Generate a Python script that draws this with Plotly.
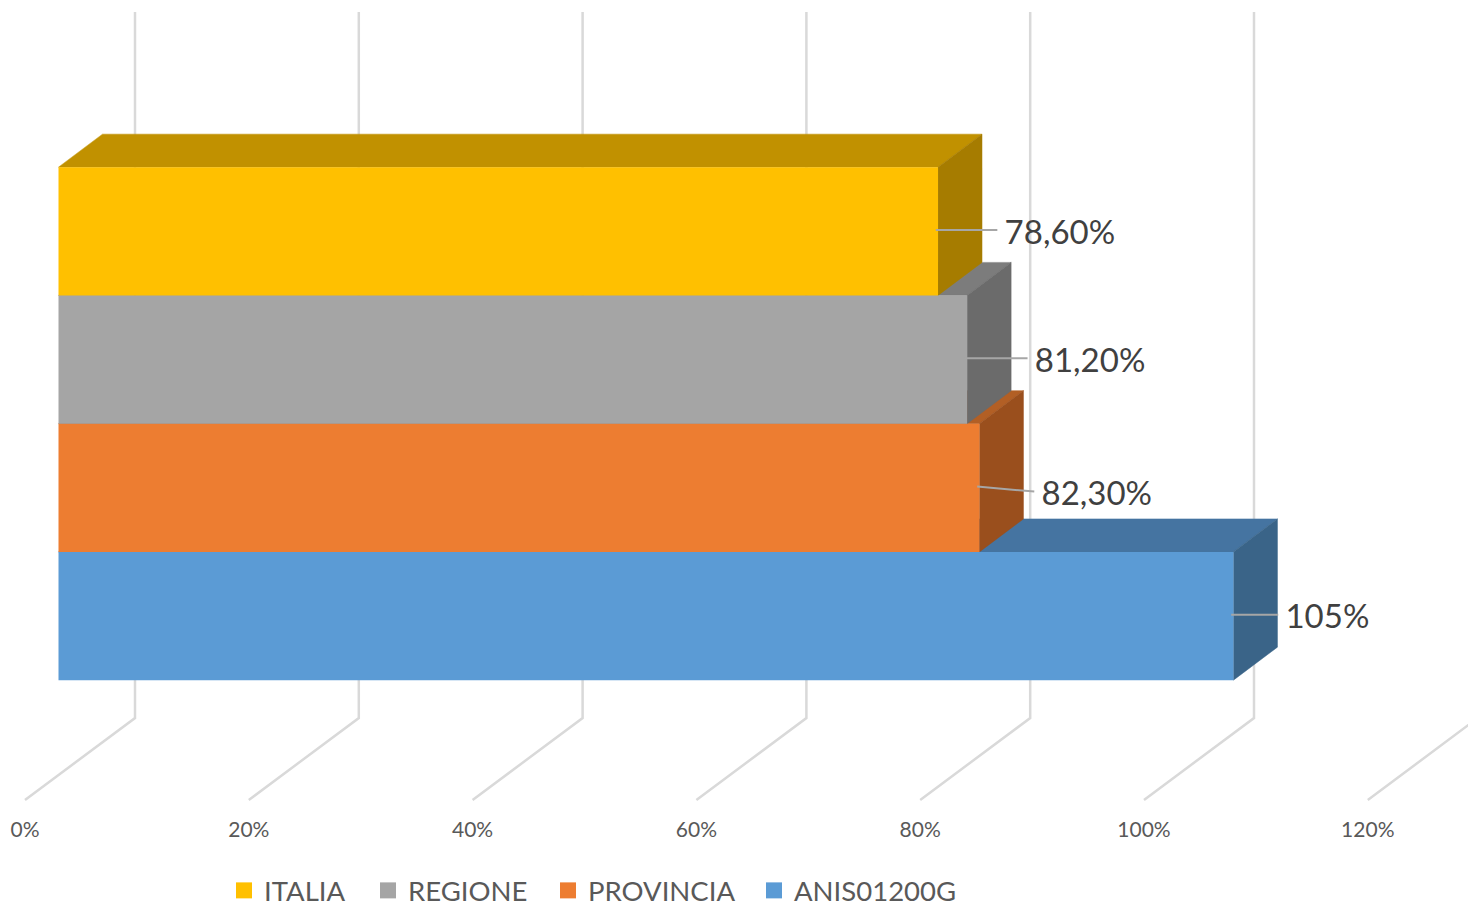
import plotly.graph_objects as go

CATEGORIES = ["ANIS01200G", "PROVINCIA", "REGIONE", "ITALIA"]
VALUES = [105, 82.3, 81.2, 78.6]
VALUE_LABELS = ["105%", "82,30%", "81,20%", "78,60%"]
FRONT_COLORS = ["#5B9BD5", "#ED7D31", "#A5A5A5", "#FFC000"]
TOP_COLORS = ["#4574A1", "#B25F25", "#7C7C7C", "#C19100"]
SIDE_COLORS = ["#3A6488", "#9A4F1D", "#6B6B6B", "#A67C00"]
TICK_VALUES = [0, 20, 40, 60, 80, 100, 120]
TICK_LABELS = ["0%", "20%", "40%", "60%", "80%", "100%", "120%"]
LEADER_LENGTH = [4.0, 4.9, 5.4, 5.3]
LEADER_DROP = [0.0, -0.04, 0.0, 0.0]
LEGEND_LEFT = [754, 548, 368, 224]

W, H = 1468, 907
PX = 11.19            # pixels per percentage point
BAND = 128.25         # pixels per category
Y0 = 616              # pixel row of the first category's centre
FRONT_ORIGIN = 58.5   # pixel column of 0 % on the bars' front face
FLOOR_ORIGIN = 25     # pixel column of 0 % on the floor's front edge
SHIFT = (FRONT_ORIGIN - FLOOR_ORIGIN) / PX
DX = 44 / PX
DY = 33 / BAND
GRID_DX = 110 / PX
FLOOR_FRONT = (Y0 - 800) / BAND
FLOOR_BACK = (Y0 - 718) / BAND
WALL_TOP = (Y0 - 12) / BAND
LABEL_NUDGE = 4 / BAND
FONT = "Lato, Carlito, Calibri, sans-serif"

y_range = [(Y0 - H) / BAND, Y0 / BAND]

fig = go.Figure()

# Depth grid: floor edge, then wall
for v in TICK_VALUES:
    fig.add_trace(go.Scatter(
        x=[v, v + GRID_DX, v + GRID_DX],
        y=[FLOOR_FRONT, FLOOR_BACK, WALL_TOP],
        mode="lines", line=dict(color="#D9D9D9", width=2.5),
        showlegend=False, hoverinfo="skip", xaxis="x", yaxis="y"))

# Depth faces of each bar, drawn from the lowest bar to the highest
for i, (v, top, side) in enumerate(zip(VALUES, TOP_COLORS, SIDE_COLORS)):
    x0, x1 = SHIFT, v + SHIFT
    yb, yt = i - 0.5, i + 0.5
    fig.add_trace(go.Scatter(
        x=[x0, x1, x1 + DX, x0 + DX, x0], y=[yt, yt, yt + DY, yt + DY, yt],
        mode="lines", fill="toself", fillcolor=top, line=dict(color=top, width=0.5),
        showlegend=False, hoverinfo="skip", xaxis="x", yaxis="y"))
    fig.add_trace(go.Scatter(
        x=[x1, x1 + DX, x1 + DX, x1, x1], y=[yb, yb + DY, yt + DY, yt, yb],
        mode="lines", fill="toself", fillcolor=side, line=dict(color=side, width=0.5),
        showlegend=False, hoverinfo="skip", xaxis="x", yaxis="y"))

# Front faces
for i in range(len(VALUES)):
    fig.add_trace(go.Bar(
        x=[VALUES[i]], y=[i], width=1, orientation="h", name=CATEGORIES[i],
        marker=dict(color=FRONT_COLORS[i], line=dict(width=0)),
        showlegend=False, xaxis="x2", yaxis="y2"))

# Legend entries, each in its own legend so the gaps can follow the reference
legend_layout = {}
for n, i in enumerate(reversed(range(len(VALUES)))):
    key = "legend" if n == 0 else f"legend{n + 1}"
    fig.add_trace(go.Scatter(
        x=[None], y=[None], mode="markers", name=CATEGORIES[i], legend=key,
        marker=dict(color=FRONT_COLORS[i], symbol="square", size=18),
        xaxis="x2", yaxis="y2"))
    legend_layout[key] = dict(
        orientation="h", x=LEGEND_LEFT[i] / W, xanchor="left",
        y=(H - 866) / H, yanchor="top",
        font=dict(family=FONT, size=27.5, color="#595959"),
        bgcolor="rgba(0,0,0,0)", itemclick=False, itemdoubleclick=False)

# Leader lines and value labels
for i, v in enumerate(VALUES):
    fig.add_trace(go.Scatter(
        x=[v - 0.2, v + LEADER_LENGTH[i]], y=[i + 0.01, i + 0.01 + LEADER_DROP[i]],
        mode="lines", line=dict(color="#A6A6A6", width=2),
        showlegend=False, hoverinfo="skip", xaxis="x2", yaxis="y2"))
    fig.add_trace(go.Scatter(
        x=[v + LEADER_LENGTH[i] + 0.65], y=[i + LEADER_DROP[i] - LABEL_NUDGE],
        mode="text", text=[VALUE_LABELS[i]], textposition="middle right",
        textfont=dict(family=FONT, size=33, color="#404040"),
        showlegend=False, hoverinfo="skip", xaxis="x2", yaxis="y2"))

fig.update_layout(
    width=W, height=H, margin=dict(l=0, r=0, t=0, b=0, autoexpand=False),
    paper_bgcolor="white", plot_bgcolor="white", barmode="overlay",
    font=dict(family=FONT, color="#595959"),
    xaxis=dict(
        range=[-FLOOR_ORIGIN / PX, (W - FLOOR_ORIGIN) / PX], domain=[0, 1],
        tickmode="array", tickvals=TICK_VALUES, ticktext=TICK_LABELS,
        tickfont=dict(family=FONT, size=21, color="#595959"),
        showgrid=False, zeroline=False, showline=False, ticks="",
        anchor="free", position=(H - 815) / H),
    yaxis=dict(range=y_range, domain=[0, 1], visible=False),
    xaxis2=dict(
        range=[-FRONT_ORIGIN / PX, (W - FRONT_ORIGIN) / PX], domain=[0, 1],
        overlaying="x", visible=False, anchor="y2"),
    yaxis2=dict(range=y_range, domain=[0, 1], overlaying="y", visible=False, anchor="x2"),
    showlegend=True,
    **legend_layout,
)

fig.write_html("out.html", config=dict(displayModeBar=False),
               post_script="document.body.style.margin='0';document.body.style.overflow='hidden';")
